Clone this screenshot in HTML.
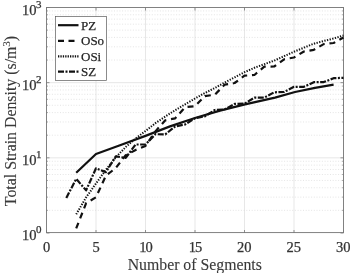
<!DOCTYPE html>
<html><head><meta charset="utf-8"><style>
html,body{margin:0;padding:0;background:#fff;}
svg{display:block;font-family:"Liberation Serif",serif;}
text{stroke:#333;stroke-width:0.25px;}
</style></head><body>
<svg width="350" height="273" viewBox="0 0 350 273">
<rect width="350" height="273" fill="#fff"/>

<line x1="96.00" y1="7.5" x2="96.00" y2="233" stroke="#dcdcdc" stroke-width="0.7"/>
<line x1="145.50" y1="7.5" x2="145.50" y2="233" stroke="#dcdcdc" stroke-width="0.7"/>
<line x1="195.00" y1="7.5" x2="195.00" y2="233" stroke="#dcdcdc" stroke-width="0.7"/>
<line x1="244.50" y1="7.5" x2="244.50" y2="233" stroke="#dcdcdc" stroke-width="0.7"/>
<line x1="294.00" y1="7.5" x2="294.00" y2="233" stroke="#dcdcdc" stroke-width="0.7"/>
<line x1="46.5" y1="210.37" x2="343.5" y2="210.37" stroke="#d4d4d4" stroke-width="0.6" stroke-dasharray="1 1.7"/>
<line x1="46.5" y1="197.14" x2="343.5" y2="197.14" stroke="#d4d4d4" stroke-width="0.6" stroke-dasharray="1 1.7"/>
<line x1="46.5" y1="187.75" x2="343.5" y2="187.75" stroke="#d4d4d4" stroke-width="0.6" stroke-dasharray="1 1.7"/>
<line x1="46.5" y1="180.46" x2="343.5" y2="180.46" stroke="#d4d4d4" stroke-width="0.6" stroke-dasharray="1 1.7"/>
<line x1="46.5" y1="174.51" x2="343.5" y2="174.51" stroke="#d4d4d4" stroke-width="0.6" stroke-dasharray="1 1.7"/>
<line x1="46.5" y1="169.48" x2="343.5" y2="169.48" stroke="#d4d4d4" stroke-width="0.6" stroke-dasharray="1 1.7"/>
<line x1="46.5" y1="165.12" x2="343.5" y2="165.12" stroke="#d4d4d4" stroke-width="0.6" stroke-dasharray="1 1.7"/>
<line x1="46.5" y1="161.27" x2="343.5" y2="161.27" stroke="#d4d4d4" stroke-width="0.6" stroke-dasharray="1 1.7"/>
<line x1="46.5" y1="135.21" x2="343.5" y2="135.21" stroke="#d4d4d4" stroke-width="0.6" stroke-dasharray="1 1.7"/>
<line x1="46.5" y1="121.97" x2="343.5" y2="121.97" stroke="#d4d4d4" stroke-width="0.6" stroke-dasharray="1 1.7"/>
<line x1="46.5" y1="112.58" x2="343.5" y2="112.58" stroke="#d4d4d4" stroke-width="0.6" stroke-dasharray="1 1.7"/>
<line x1="46.5" y1="105.29" x2="343.5" y2="105.29" stroke="#d4d4d4" stroke-width="0.6" stroke-dasharray="1 1.7"/>
<line x1="46.5" y1="99.34" x2="343.5" y2="99.34" stroke="#d4d4d4" stroke-width="0.6" stroke-dasharray="1 1.7"/>
<line x1="46.5" y1="94.31" x2="343.5" y2="94.31" stroke="#d4d4d4" stroke-width="0.6" stroke-dasharray="1 1.7"/>
<line x1="46.5" y1="89.95" x2="343.5" y2="89.95" stroke="#d4d4d4" stroke-width="0.6" stroke-dasharray="1 1.7"/>
<line x1="46.5" y1="86.11" x2="343.5" y2="86.11" stroke="#d4d4d4" stroke-width="0.6" stroke-dasharray="1 1.7"/>
<line x1="46.5" y1="157.83" x2="343.5" y2="157.83" stroke="#dcdcdc" stroke-width="0.7"/>
<line x1="46.5" y1="60.04" x2="343.5" y2="60.04" stroke="#d4d4d4" stroke-width="0.6" stroke-dasharray="1 1.7"/>
<line x1="46.5" y1="46.80" x2="343.5" y2="46.80" stroke="#d4d4d4" stroke-width="0.6" stroke-dasharray="1 1.7"/>
<line x1="46.5" y1="37.41" x2="343.5" y2="37.41" stroke="#d4d4d4" stroke-width="0.6" stroke-dasharray="1 1.7"/>
<line x1="46.5" y1="30.13" x2="343.5" y2="30.13" stroke="#d4d4d4" stroke-width="0.6" stroke-dasharray="1 1.7"/>
<line x1="46.5" y1="24.18" x2="343.5" y2="24.18" stroke="#d4d4d4" stroke-width="0.6" stroke-dasharray="1 1.7"/>
<line x1="46.5" y1="19.14" x2="343.5" y2="19.14" stroke="#d4d4d4" stroke-width="0.6" stroke-dasharray="1 1.7"/>
<line x1="46.5" y1="14.78" x2="343.5" y2="14.78" stroke="#d4d4d4" stroke-width="0.6" stroke-dasharray="1 1.7"/>
<line x1="46.5" y1="10.94" x2="343.5" y2="10.94" stroke="#d4d4d4" stroke-width="0.6" stroke-dasharray="1 1.7"/>
<line x1="46.5" y1="82.67" x2="343.5" y2="82.67" stroke="#dcdcdc" stroke-width="0.7"/>
<rect x="46.5" y="7.5" width="297.0" height="225.1" fill="none" stroke="#747474" stroke-width="0.9"/>
<line x1="46.50" y1="233" x2="46.50" y2="230" stroke="#777" stroke-width="0.8"/>
<line x1="46.50" y1="7.5" x2="46.50" y2="10.5" stroke="#777" stroke-width="0.8"/>
<line x1="96.00" y1="233" x2="96.00" y2="230" stroke="#777" stroke-width="0.8"/>
<line x1="96.00" y1="7.5" x2="96.00" y2="10.5" stroke="#777" stroke-width="0.8"/>
<line x1="145.50" y1="233" x2="145.50" y2="230" stroke="#777" stroke-width="0.8"/>
<line x1="145.50" y1="7.5" x2="145.50" y2="10.5" stroke="#777" stroke-width="0.8"/>
<line x1="195.00" y1="233" x2="195.00" y2="230" stroke="#777" stroke-width="0.8"/>
<line x1="195.00" y1="7.5" x2="195.00" y2="10.5" stroke="#777" stroke-width="0.8"/>
<line x1="244.50" y1="233" x2="244.50" y2="230" stroke="#777" stroke-width="0.8"/>
<line x1="244.50" y1="7.5" x2="244.50" y2="10.5" stroke="#777" stroke-width="0.8"/>
<line x1="294.00" y1="233" x2="294.00" y2="230" stroke="#777" stroke-width="0.8"/>
<line x1="294.00" y1="7.5" x2="294.00" y2="10.5" stroke="#777" stroke-width="0.8"/>
<line x1="343.50" y1="233" x2="343.50" y2="230" stroke="#777" stroke-width="0.8"/>
<line x1="343.50" y1="7.5" x2="343.50" y2="10.5" stroke="#777" stroke-width="0.8"/>
<line x1="46.5" y1="233.00" x2="49.5" y2="233.00" stroke="#777" stroke-width="0.8"/>
<line x1="343.5" y1="233.00" x2="340.5" y2="233.00" stroke="#777" stroke-width="0.8"/>
<line x1="46.5" y1="210.37" x2="48.0" y2="210.37" stroke="#777" stroke-width="0.6"/>
<line x1="343.5" y1="210.37" x2="342.0" y2="210.37" stroke="#777" stroke-width="0.6"/>
<line x1="46.5" y1="197.14" x2="48.0" y2="197.14" stroke="#777" stroke-width="0.6"/>
<line x1="343.5" y1="197.14" x2="342.0" y2="197.14" stroke="#777" stroke-width="0.6"/>
<line x1="46.5" y1="187.75" x2="48.0" y2="187.75" stroke="#777" stroke-width="0.6"/>
<line x1="343.5" y1="187.75" x2="342.0" y2="187.75" stroke="#777" stroke-width="0.6"/>
<line x1="46.5" y1="180.46" x2="48.0" y2="180.46" stroke="#777" stroke-width="0.6"/>
<line x1="343.5" y1="180.46" x2="342.0" y2="180.46" stroke="#777" stroke-width="0.6"/>
<line x1="46.5" y1="174.51" x2="48.0" y2="174.51" stroke="#777" stroke-width="0.6"/>
<line x1="343.5" y1="174.51" x2="342.0" y2="174.51" stroke="#777" stroke-width="0.6"/>
<line x1="46.5" y1="169.48" x2="48.0" y2="169.48" stroke="#777" stroke-width="0.6"/>
<line x1="343.5" y1="169.48" x2="342.0" y2="169.48" stroke="#777" stroke-width="0.6"/>
<line x1="46.5" y1="165.12" x2="48.0" y2="165.12" stroke="#777" stroke-width="0.6"/>
<line x1="343.5" y1="165.12" x2="342.0" y2="165.12" stroke="#777" stroke-width="0.6"/>
<line x1="46.5" y1="161.27" x2="48.0" y2="161.27" stroke="#777" stroke-width="0.6"/>
<line x1="343.5" y1="161.27" x2="342.0" y2="161.27" stroke="#777" stroke-width="0.6"/>
<line x1="46.5" y1="157.83" x2="49.5" y2="157.83" stroke="#777" stroke-width="0.8"/>
<line x1="343.5" y1="157.83" x2="340.5" y2="157.83" stroke="#777" stroke-width="0.8"/>
<line x1="46.5" y1="135.21" x2="48.0" y2="135.21" stroke="#777" stroke-width="0.6"/>
<line x1="343.5" y1="135.21" x2="342.0" y2="135.21" stroke="#777" stroke-width="0.6"/>
<line x1="46.5" y1="121.97" x2="48.0" y2="121.97" stroke="#777" stroke-width="0.6"/>
<line x1="343.5" y1="121.97" x2="342.0" y2="121.97" stroke="#777" stroke-width="0.6"/>
<line x1="46.5" y1="112.58" x2="48.0" y2="112.58" stroke="#777" stroke-width="0.6"/>
<line x1="343.5" y1="112.58" x2="342.0" y2="112.58" stroke="#777" stroke-width="0.6"/>
<line x1="46.5" y1="105.29" x2="48.0" y2="105.29" stroke="#777" stroke-width="0.6"/>
<line x1="343.5" y1="105.29" x2="342.0" y2="105.29" stroke="#777" stroke-width="0.6"/>
<line x1="46.5" y1="99.34" x2="48.0" y2="99.34" stroke="#777" stroke-width="0.6"/>
<line x1="343.5" y1="99.34" x2="342.0" y2="99.34" stroke="#777" stroke-width="0.6"/>
<line x1="46.5" y1="94.31" x2="48.0" y2="94.31" stroke="#777" stroke-width="0.6"/>
<line x1="343.5" y1="94.31" x2="342.0" y2="94.31" stroke="#777" stroke-width="0.6"/>
<line x1="46.5" y1="89.95" x2="48.0" y2="89.95" stroke="#777" stroke-width="0.6"/>
<line x1="343.5" y1="89.95" x2="342.0" y2="89.95" stroke="#777" stroke-width="0.6"/>
<line x1="46.5" y1="86.11" x2="48.0" y2="86.11" stroke="#777" stroke-width="0.6"/>
<line x1="343.5" y1="86.11" x2="342.0" y2="86.11" stroke="#777" stroke-width="0.6"/>
<line x1="46.5" y1="82.67" x2="49.5" y2="82.67" stroke="#777" stroke-width="0.8"/>
<line x1="343.5" y1="82.67" x2="340.5" y2="82.67" stroke="#777" stroke-width="0.8"/>
<line x1="46.5" y1="60.04" x2="48.0" y2="60.04" stroke="#777" stroke-width="0.6"/>
<line x1="343.5" y1="60.04" x2="342.0" y2="60.04" stroke="#777" stroke-width="0.6"/>
<line x1="46.5" y1="46.80" x2="48.0" y2="46.80" stroke="#777" stroke-width="0.6"/>
<line x1="343.5" y1="46.80" x2="342.0" y2="46.80" stroke="#777" stroke-width="0.6"/>
<line x1="46.5" y1="37.41" x2="48.0" y2="37.41" stroke="#777" stroke-width="0.6"/>
<line x1="343.5" y1="37.41" x2="342.0" y2="37.41" stroke="#777" stroke-width="0.6"/>
<line x1="46.5" y1="30.13" x2="48.0" y2="30.13" stroke="#777" stroke-width="0.6"/>
<line x1="343.5" y1="30.13" x2="342.0" y2="30.13" stroke="#777" stroke-width="0.6"/>
<line x1="46.5" y1="24.18" x2="48.0" y2="24.18" stroke="#777" stroke-width="0.6"/>
<line x1="343.5" y1="24.18" x2="342.0" y2="24.18" stroke="#777" stroke-width="0.6"/>
<line x1="46.5" y1="19.14" x2="48.0" y2="19.14" stroke="#777" stroke-width="0.6"/>
<line x1="343.5" y1="19.14" x2="342.0" y2="19.14" stroke="#777" stroke-width="0.6"/>
<line x1="46.5" y1="14.78" x2="48.0" y2="14.78" stroke="#777" stroke-width="0.6"/>
<line x1="343.5" y1="14.78" x2="342.0" y2="14.78" stroke="#777" stroke-width="0.6"/>
<line x1="46.5" y1="10.94" x2="48.0" y2="10.94" stroke="#777" stroke-width="0.6"/>
<line x1="343.5" y1="10.94" x2="342.0" y2="10.94" stroke="#777" stroke-width="0.6"/>
<line x1="46.5" y1="7.50" x2="49.5" y2="7.50" stroke="#777" stroke-width="0.8"/>
<line x1="343.5" y1="7.50" x2="340.5" y2="7.50" stroke="#777" stroke-width="0.8"/>
<text x="46.70" y="251.6" text-anchor="middle" font-size="14.5" fill="#333">0</text>
<text x="96.20" y="251.6" text-anchor="middle" font-size="14.5" fill="#333">5</text>
<text x="145.50" y="251.6" text-anchor="middle" font-size="14.5" letter-spacing="-0.9" fill="#333">10</text>
<text x="195.00" y="251.6" text-anchor="middle" font-size="14.5" letter-spacing="-0.9" fill="#333">15</text>
<text x="244.20" y="251.6" text-anchor="middle" font-size="14.5" fill="#333">20</text>
<text x="293.70" y="251.6" text-anchor="middle" font-size="14.5" fill="#333">25</text>
<text x="343.20" y="251.6" text-anchor="middle" font-size="14.5" fill="#333">30</text>
<text x="36.4" y="240.00" text-anchor="end" font-size="14.5" fill="#333">10</text>
<text x="36.1" y="233.30" text-anchor="start" font-size="11" fill="#333">0</text>
<text x="36.4" y="164.83" text-anchor="end" font-size="14.5" fill="#333">10</text>
<text x="36.1" y="158.13" text-anchor="start" font-size="11" fill="#333">1</text>
<text x="36.4" y="89.67" text-anchor="end" font-size="14.5" fill="#333">10</text>
<text x="36.1" y="82.97" text-anchor="start" font-size="11" fill="#333">2</text>
<text x="36.4" y="14.50" text-anchor="end" font-size="14.5" fill="#333">10</text>
<text x="36.1" y="7.80" text-anchor="start" font-size="11" fill="#333">3</text>
<text x="194.8" y="270.1" text-anchor="middle" font-size="15.8" fill="#3a3a3a" style="stroke-width:0.1px">Number of Segments</text>
<text transform="translate(15.5,121.0) rotate(-90)" text-anchor="middle" font-size="15.85" fill="#3a3a3a" style="stroke-width:0.1px">Total Strain Density (s/m<tspan dy="-6" font-size="11">3</tspan><tspan dy="6">)</tspan></text>
<path d="M76.2 172.8 L96.0 154.0 L120.0 145.2 L145.5 135.9 L170.0 126.4 L195.0 118.0 L220.0 110.6 L245.0 104.4 L275.0 97.6 L295.0 92.0 L315.0 87.8 L333.6 84.6" fill="none" stroke="#111" stroke-width="2.2" stroke-linejoin="round"/>
<path d="M76.2 228.4 L86.1 203.2 L96.0 197.2 L105.9 175.7 L115.8 168.0 L125.7 155.3 L135.6 150.0 L145.5 146.0 L155.4 131.4 L165.3 120.3 L175.2 118.3 L185.1 107.2 L195.0 106.2 L204.9 96.1 L214.8 94.7 L224.7 84.6 L234.6 83.0 L244.5 75.7 L254.4 75.0 L264.3 66.7 L274.2 66.5 L284.1 59.3 L294.0 57.5 L303.9 51.5 L313.8 49.8 L323.7 44.1 L333.6 43.0 L343.5 37.5" fill="none" stroke="#111" stroke-width="2.2" stroke-dasharray="6 4.8" stroke-linejoin="round"/>
<path d="M76.2 214.3 L86.1 197.4 L96.0 183.5 L105.9 169.8 L115.8 157.3 L125.7 147.0 L135.6 138.5 L145.5 131.0 L155.4 123.2 L165.3 116.5 L175.2 110.2 L185.1 104.3 L195.0 98.5 L204.9 93.0 L214.8 88.0 L224.7 82.5 L234.6 77.3 L244.5 72.2 L254.4 67.8 L264.3 64.2 L274.2 60.6 L284.1 56.2 L294.0 51.7 L303.9 47.7 L313.8 43.7 L323.7 41.0 L333.6 38.5 L343.5 35.5" fill="none" stroke="#111" stroke-width="2.0" stroke-dasharray="1.3 1.4" stroke-linejoin="round"/>
<path d="M66.3 197.9 L76.2 178.9 L86.1 190.3 L96.0 168.3 L105.9 172.1 L115.8 156.4 L125.7 157.9 L135.6 144.5 L145.5 144.5 L155.4 134.2 L165.3 134.4 L175.2 126.4 L185.1 124.5 L195.0 118.3 L204.9 116.3 L214.8 110.0 L224.7 109.4 L234.6 103.9 L244.5 103.7 L254.4 97.7 L264.3 97.6 L274.2 92.3 L284.1 92.0 L294.0 86.8 L303.9 86.8 L313.8 82.2 L323.7 82.1 L333.6 78.2 L343.5 77.8" fill="none" stroke="#111" stroke-width="2.2" stroke-dasharray="6 1.5 2 1.5" stroke-linejoin="round"/>
<rect x="55.5" y="16.5" width="51" height="64.1" fill="#fff" stroke="#5a5a5a" stroke-width="0.7"/>
<line x1="58" y1="25.2" x2="78.5" y2="25.2" stroke="#111" stroke-width="2.2" stroke-dasharray=""/>
<text x="81" y="29.6" font-size="13" fill="#1a1a1a">PZ</text>
<line x1="58" y1="40.8" x2="78.5" y2="40.8" stroke="#111" stroke-width="2.2" stroke-dasharray="6 4.5"/>
<text x="81" y="45.199999999999996" font-size="13" fill="#1a1a1a">OSo</text>
<line x1="58" y1="56.4" x2="78.5" y2="56.4" stroke="#111" stroke-width="2.2" stroke-dasharray="1.3 1.1"/>
<text x="81" y="60.8" font-size="13" fill="#1a1a1a">OSi</text>
<line x1="58" y1="71.7" x2="78.5" y2="71.7" stroke="#111" stroke-width="2.2" stroke-dasharray="6 1.5 2 1.5"/>
<text x="81" y="76.10000000000001" font-size="13" fill="#1a1a1a">SZ</text>
</svg></body></html>
